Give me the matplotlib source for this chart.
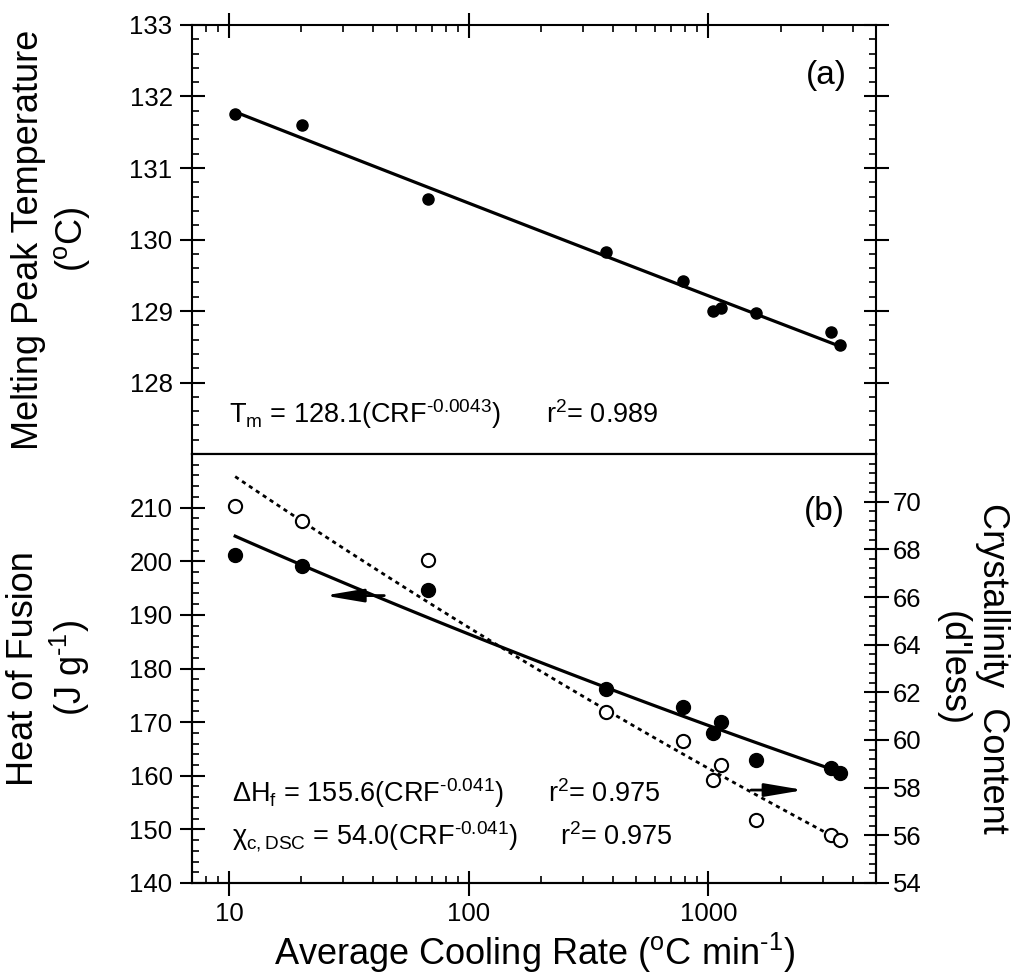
import numpy as np
import matplotlib
matplotlib.use("Agg")
import matplotlib.pyplot as plt
from matplotlib import font_manager
from matplotlib.ticker import MultipleLocator, LogLocator, NullFormatter

plt.rcParams['font.family'] = ['Liberation Sans', 'DejaVu Sans']
plt.rcParams['mathtext.fontset'] = 'custom'
plt.rcParams['mathtext.rm'] = 'Liberation Sans'
plt.rcParams['mathtext.it'] = 'Liberation Sans:italic'
plt.rcParams['mathtext.default'] = 'regular'

# the labels look condensed, use the narrow face when it is there
try:
    font_manager.findfont('Liberation Sans Narrow', fallback_to_default=False)
    NARROW = ['Liberation Sans Narrow', 'DejaVu Sans']
    ANN, LAB = 23, 28
except ValueError:
    NARROW = ['Liberation Sans', 'DejaVu Sans']
    ANN, LAB = 19.5, 26

# cooling rate (degC/min)
rate = [10.6, 20.1, 67.5, 373, 785, 1047, 1133, 1577, 3236, 3532]
# (a) melting peak temperature (degC)
tm = [131.75, 131.60, 130.57, 129.82, 129.42, 129.00, 129.04, 128.97, 128.70, 128.53]
# (b) heat of fusion (J/g) and crystallinity (d'less)
dhf = [201.1, 199.2, 194.7, 176.2, 172.9, 167.9, 170.0, 162.9, 161.4, 160.6]
chi = [69.84, 69.17, 67.56, 61.16, 59.97, 58.33, 58.95, 56.65, 56.02, 55.81]

x_ticks = [10, 100, 1000]
x_ticklabels = ['10', '100', '1000']

rate = np.array(rate)
xfit = np.logspace(np.log10(rate.min()), np.log10(rate.max()), 100)


def powerfit(x, y):
    b, a = np.polyfit(np.log10(x), np.log10(y), 1)
    return 10 ** a * xfit ** b


TICK = 18.5
fig = plt.figure(figsize=(10.12, 9.8), dpi=100)
ax_a = fig.add_axes([0.1897, 0.5367, 0.6759, 0.4378])
ax_b = fig.add_axes([0.1897, 0.0990, 0.6759, 0.4377])
ax_c = ax_b.twinx()

for ax in (ax_a, ax_b, ax_c):
    for s in ax.spines.values():
        s.set_linewidth(1.5)
    ax.set_xscale('log')
    ax.set_xlim(7, 5000)
    ax.tick_params(which='major', direction='inout', length=18, width=1.5,
                   labelsize=TICK, pad=5)
    ax.tick_params(which='minor', direction='in', length=5, width=1.2)

# ---- panel (a)
ax_a.plot(xfit, powerfit(rate, tm), color='k', lw=2.3, zorder=2)
ax_a.plot(rate, tm, 'o', color='k', ms=8, zorder=3)
ax_a.set_ylim(127, 133)
ax_a.set_yticks([128, 129, 130, 131, 132, 133])
ax_a.yaxis.set_minor_locator(MultipleLocator(0.2))
ax_a.set_xticks(x_ticks)
ax_a.xaxis.set_minor_locator(LogLocator(subs=np.arange(2, 10)))
ax_a.xaxis.set_minor_formatter(NullFormatter())
ax_a.tick_params(axis='x', which='both', bottom=False, top=True,
                 labelbottom=False, labeltop=False)
ax_a.tick_params(axis='y', which='both', left=True, right=True,
                 labelleft=True, labelright=False)
ax_a.set_ylabel('Melting Peak Temperature\n($^{o}$C)', fontsize=LAB,
                family=NARROW)
ax_a.yaxis.set_label_coords(-0.146, 0.5)
ax_a.text(0.927, 0.883, '(a)', transform=ax_a.transAxes, fontsize=24,
          family=NARROW, ha='center', va='center')
ax_a.text(0.054, 0.072, r'$T_m$ = 128.1(CRF$^{\text{-}0.0043}$)',
          transform=ax_a.transAxes, fontsize=ANN, family=NARROW, va='baseline')
ax_a.text(0.518, 0.072, r'r$^2$= 0.989',
          transform=ax_a.transAxes, fontsize=ANN, family=NARROW, va='baseline')

# ---- panel (b)
ax_b.plot(xfit, powerfit(rate, dhf), color='k', lw=2.3, zorder=2)
ax_b.plot(rate, dhf, 'o', color='k', ms=10, zorder=3)
ax_b.set_ylim(140, 220)
ax_b.set_yticks(np.arange(140, 211, 10))
ax_b.yaxis.set_minor_locator(MultipleLocator(2))
ax_b.set_xticks(x_ticks)
ax_b.set_xticklabels(x_ticklabels)
ax_b.xaxis.set_minor_locator(LogLocator(subs=np.arange(2, 10)))
ax_b.xaxis.set_minor_formatter(NullFormatter())
ax_b.tick_params(axis='x', which='both', bottom=True, top=False)
ax_b.tick_params(axis='y', which='both', left=True, right=False)
ax_b.set_ylabel('Heat of Fusion\n' + r'(J g$^{\text{-}1}$)', fontsize=LAB,
                family=NARROW)
ax_b.yaxis.set_label_coords(-0.146, 0.5)
ax_b.set_xlabel(r'Average Cooling Rate ($^{o}$C min$^{\text{-}1}$)',
                fontsize=LAB, family=NARROW, labelpad=3)

ax_c.plot(xfit, powerfit(rate, chi), color='k', lw=2.0,
          linestyle=(0, (1.5, 1.5)), zorder=2)
ax_c.plot(rate, chi, 'o', mfc='white', mec='k', mew=1.5, ms=9.5, zorder=3)
ax_c.set_ylim(54, 72)
ax_c.set_yticks(np.arange(54, 71, 2))
ax_c.yaxis.set_minor_locator(MultipleLocator(0.4))
ax_c.tick_params(axis='y', which='major', pad=3)
ax_c.set_ylabel("Crystallinity  Content\n(d'less)", fontsize=LAB,
                family=NARROW, rotation=270, va='bottom')
ax_c.yaxis.set_label_coords(1.086, 0.5)

ax_b.text(0.925, 0.865, '(b)', transform=ax_b.transAxes, fontsize=24,
          family=NARROW, ha='center', va='center')
ax_b.text(0.058, 0.189, r'$\Delta H_f$ = 155.6(CRF$^{\text{-}0.041}$)',
          transform=ax_b.transAxes, fontsize=ANN, family=NARROW, va='baseline')
ax_b.text(0.521, 0.189, r'r$^2$= 0.975',
          transform=ax_b.transAxes, fontsize=ANN, family=NARROW, va='baseline')
ax_b.text(0.058, 0.0886, r'$\chi_{c,DSC}$ = 54.0(CRF$^{\text{-}0.041}$)',
          transform=ax_b.transAxes, fontsize=ANN, family=NARROW, va='baseline')
ax_b.text(0.538, 0.0886, r'r$^2$= 0.975',
          transform=ax_b.transAxes, fontsize=ANN, family=NARROW, va='baseline')

arrow = dict(arrowstyle='-|>,head_length=1.3,head_width=0.22', color='k',
             lw=2, mutation_scale=18, shrinkA=0, shrinkB=0)
ax_b.annotate('', xy=(25, 193.6), xytext=(44.4, 193.6), arrowprops=arrow)
ax_c.annotate('', xy=(2500, 57.9), xytext=(1507, 57.9), arrowprops=arrow)

fig.savefig('out.png', dpi=100)
